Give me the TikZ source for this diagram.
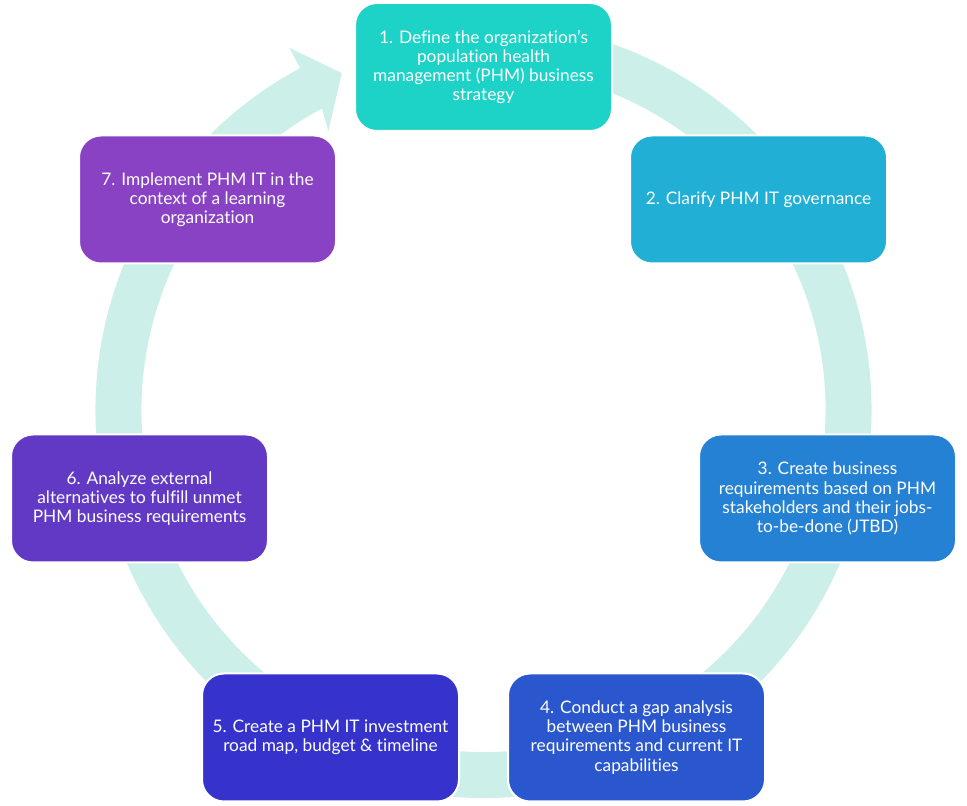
\documentclass[tikz,border=0pt]{standalone}
\usepackage{fontspec}
\setmainfont{Lato}[Ligatures={NoCommon,NoDiscretionary}]
\usepackage{xcolor}
\usepackage{tikz}
\usetikzlibrary{positioning}

\definecolor{ringc}{HTML}{CCEFE9}
\definecolor{cone}{HTML}{1DD3C7}
\definecolor{ctwo}{HTML}{21AFD5}
\definecolor{cthree}{HTML}{2581D3}
\definecolor{cfour}{HTML}{2B57CE}
\definecolor{cfive}{HTML}{3533CB}
\definecolor{csix}{HTML}{6239C5}
\definecolor{cseven}{HTML}{8A42C5}

\begin{document}
\begin{tikzpicture}[x=1pt,y=1pt,
    phase/.style={rectangle,rounded corners=22pt,draw=white,line width=2pt,
      minimum width=257pt,minimum height=128pt,inner sep=0pt,text=white,
      align=center,font=\fontsize{17.3}{19.1}\selectfont}]

    \useasboundingbox (0,0) rectangle (967,806);

    \begin{scope}[shift={(483.5,396)}]
    \fill[ringc] (80:388) arc[start angle=80,end angle=-241.8,radius=388pt]
      -- (-241.8:411) -- (112.8:365.5) -- (-240.9:319)
      -- (-241.8:342) arc[start angle=-241.8,end angle=80,radius=342pt] -- cycle;
    \end{scope}

    \node[phase,fill=cone] at (483.5,739) (strat) {1. Define the organization’s\\population health\\management (PHM) business\\strategy};
    \node[phase,fill=ctwo] at (758.5,606.5) (gov) {2. Clarify PHM IT governance};
    \node[phase,fill=cthree] at (827.5,307.5) (req) {3. Create business\\requirements based on PHM\\stakeholders and their jobs-\\to-be-done (JTBD)};
    \node[phase,fill=cfour] at (636.5,68.5) (gap) {4. Conduct a gap analysis\\between PHM business\\requirements and current IT\\capabilities};
    \node[phase,fill=cfive] at (330.5,68.5) (road) {5. Create a PHM IT investment\\road map, budget \& timeline};
    \node[phase,fill=csix] at (139.5,307.5) (alt) {6. Analyze external\\alternatives to fulfill unmet\\PHM business requirements};
    \node[phase,fill=cseven] at (207.5,606.5) (impl) {7. Implement PHM IT in the\\context of a learning\\organization};

\end{tikzpicture}
\end{document}
